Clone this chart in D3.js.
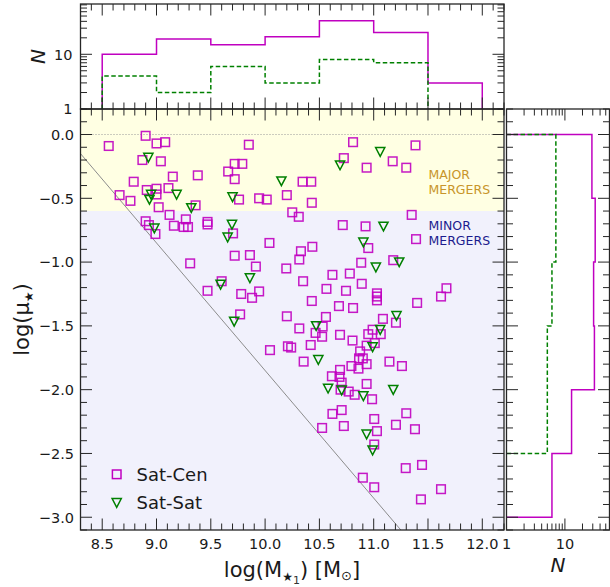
<!DOCTYPE html>
<html><head><meta charset="utf-8">
<script src="https://cdn.jsdelivr.net/npm/d3@7"></script>
<style>body{margin:0;background:#fff;} svg{display:block;font-family:"DejaVu Sans",sans-serif;}</style>
</head><body><svg id="c" width="610" height="587"></svg>
<script>
// ---------------- data ----------------
const satCen = [
[8.90,-0.01],[9.00,-0.07],[9.08,-0.06],[8.56,-0.09],[8.87,-0.20],[9.04,-0.21],[9.38,-0.32],[9.66,-0.29],[9.15,-0.33],[8.79,-0.37],
[8.91,-0.435],[9.00,-0.425],[9.00,-0.47],[9.11,-0.42],[8.66,-0.475],[8.76,-0.52],[9.02,-0.57],[9.36,-0.555],[9.12,-0.63],[8.90,-0.68],
[8.93,-0.71],[8.99,-0.78],[9.27,-0.665],[9.16,-0.715],[9.25,-0.725],[9.29,-0.725],[9.47,-0.685],[9.47,-0.705],[9.31,-1.01],[9.47,-1.225],[9.60,-1.15],
[9.85,-0.08],[9.72,-0.23],[9.79,-0.23],[9.72,-0.35],[9.76,-0.51],[9.945,-0.50],[10.015,-0.51],[10.20,-0.475],[10.345,-0.37],[10.425,-0.37],
[10.43,-0.535],[10.25,-0.61],[10.31,-0.645],[10.81,-0.06],[10.725,-0.185],[10.935,-0.26],[10.715,-0.71],[10.925,-0.72],[9.705,-0.775],[10.04,-0.85],
[9.72,-0.95],[9.86,-0.945],[9.915,-1.035],[10.195,-1.05],[10.33,-0.915],[10.435,-0.88],[10.315,-0.98],[10.35,-1.15],[9.78,-1.25],[9.88,-1.28],
[9.945,-1.23],[10.43,-1.305],[10.565,-1.21],[10.62,-1.10],[10.78,-1.09],[10.745,-1.225],[10.885,-1.005],[10.89,-1.17],[10.95,-0.89],[10.68,-1.345],
[10.81,-1.36],[9.77,-1.41],[10.20,-1.425],[10.56,-1.43],
[11.385,-0.085],[11.175,-0.21],[11.30,-0.26],[11.35,-0.63],[11.39,-0.82],[11.18,-0.985],[11.03,-1.245],[11.03,-1.27],[11.03,-1.30],[11.40,-1.32],
[11.62,-1.27],[11.67,-1.205],[11.085,-1.445],[11.205,-1.475],
[10.315,-1.52],[10.465,-1.555],[10.525,-1.585],[10.53,-1.505],[10.69,-1.57],[10.805,-1.615],[10.95,-1.565],[10.045,-1.69],[10.21,-1.66],[10.24,-1.67],
[10.42,-1.65],[10.875,-1.70],[10.355,-1.78],[10.795,-1.815],[10.865,-1.755],[10.90,-1.755],[10.86,-1.835],[10.935,-1.80],[10.615,-1.895],[10.69,-1.845],
[10.685,-1.90],[10.705,-1.945],[10.695,-2.00],[10.77,-2.015],[10.825,-2.04],[10.935,-1.955],[10.62,-2.19],[10.705,-2.16],[10.525,-2.30],[10.725,-2.285],[10.90,-2.69],
[10.99,-1.53],[11.065,-1.565],[11.01,-1.635],[10.935,-1.655],[11.145,-1.78],[11.26,-1.815],[10.985,-2.075],[11.005,-2.23],[11.03,-2.325],[11.30,-2.185],
[11.205,-2.275],[11.38,-2.31],[11.005,-2.43],[11.005,-2.765],[11.295,-2.615],[11.445,-2.59],[11.435,-2.86],[11.62,-2.78]
];
const satSat = [
[8.925,-0.18],[8.95,-0.47],[8.935,-0.51],[9.185,-0.47],[9.32,-0.575],[8.98,-0.735],[9.59,-1.175],[10.15,-0.365],[9.70,-0.49],[9.695,-0.705],
[9.655,-0.805],[10.69,-0.24],[10.905,-0.845],[9.86,-1.125],[9.715,-1.465],[10.47,-1.50],[11.06,-0.135],[11.09,-0.72],[11.02,-1.04],[11.235,-1.00],
[11.21,-1.42],[10.49,-1.765],[10.58,-1.99],[10.705,-2.005],[10.905,-2.05],[10.935,-2.35],[11.06,-1.53],[10.99,-1.665],[11.18,-2.0],[10.99,-2.475]
];
const massBinEdges = [8.5, 9.0, 9.5, 10.0, 10.5, 11.0, 11.5, 12.0];
const satCenMassCounts = [10, 19, 15, 21, 41, 25, 3];
const satSatMassCounts = [4, 2, 6, 3, 8, 7];
const muBinEdges = [0.0, -0.5, -1.0, -1.5, -2.0, -2.5, -3.0];
const satCenMuCounts = [29, 33, 31, 32, 13, 6];
const satSatMuCounts = [7, 7, 6, 5, 5];
const majorThreshold = -0.6;
const limitIntercept = 8.15;      // log(mu) = 8.15 - log(M)
const xTickValues = [8.5, 9.0, 9.5, 10.0, 10.5, 11.0, 11.5, 12.0];
const yTickValues = [-3.0, -2.5, -2.0, -1.5, -1.0, -0.5, 0.0];
const nTickValues = [1, 10];
const seriesNames = ["Sat-Cen", "Sat-Sat"];
const regionLabels = [["MAJOR", "MERGERS"], ["MINOR", "MERGERS"]];

// ---------------- layout ----------------
const L = 80.5, R = 504, T = 109, B = 530, TT = 4, RL = 506.5, RR = 609.5;
const MAG = "#c000c0", GRN = "#008000", AX = "#262626";
const svg = d3.select("#c");

const x = d3.scaleLinear([8.3, 12.2], [L, R]);
const y = d3.scaleLinear([-3.1, 0.2], [B, T]);
const yN = d3.scaleLog([1, 83], [T, TT]);
const xN = d3.scaleLog([1, 58], [RL, RR]);

const defs = svg.append("defs");
defs.append("clipPath").attr("id","cm").append("rect").attr("x",L).attr("y",T).attr("width",R-L).attr("height",B-T);
defs.append("clipPath").attr("id","ct").append("rect").attr("x",L).attr("y",TT).attr("width",R-L).attr("height",T-TT);
defs.append("clipPath").attr("id","cr").append("rect").attr("x",RL).attr("y",T).attr("width",RR-RL).attr("height",B-T);

// ---------------- main panel backgrounds ----------------
const gm = svg.append("g").attr("clip-path","url(#cm)");
gm.append("rect").attr("x",L).attr("width",R-L).attr("y",y(0.2)).attr("height",y(majorThreshold)-y(0.2)).attr("fill","#ffffe3");
gm.append("rect").attr("x",L).attr("width",R-L).attr("y",y(majorThreshold)).attr("height",y(-3.1)-y(majorThreshold)).attr("fill","#f1f1fc");
gm.append("line").attr("x1",L).attr("x2",R).attr("y1",y(0)).attr("y2",y(0))
  .attr("stroke","#999").attr("stroke-width",1).attr("stroke-dasharray","1,2");
gm.append("line").attr("x1",x(8.3)).attr("y1",y(limitIntercept-8.3)).attr("x2",x(12.2)).attr("y2",y(limitIntercept-12.2))
  .attr("stroke","#8c8c8c").attr("stroke-width",1);

// region labels
const lab = svg.append("g").attr("font-size","12.5px");
[[regionLabels[0], -0.35, "#c8952a"], [regionLabels[1], -0.75, "#1c1c8e"]].forEach(([lines, yv, col]) => {
  lines.forEach((t, i) => lab.append("text").attr("x", 428.5).attr("y", y(yv) + (i ? 15 : 0)).attr("fill", col).text(t));
});

// markers
const sq = 8.6;
gm.append("g").selectAll("rect").data(satCen).join("rect")
  .attr("x", d => x(d[0]) - sq/2).attr("y", d => y(d[1]) - sq/2).attr("width", sq).attr("height", sq)
  .attr("fill","none").attr("stroke",MAG).attr("stroke-width",1.5).attr("stroke-opacity",0.9);
const tri = (cx, cy) => `M${cx-4.6},${cy-4.2}L${cx+4.6},${cy-4.2}L${cx},${cy+4.6}Z`;
gm.append("g").selectAll("path").data(satSat).join("path")
  .attr("d", d => tri(x(d[0]), y(d[1])))
  .attr("fill","none").attr("stroke",GRN).attr("stroke-width",1.5).attr("stroke-linejoin","miter");

// ---------------- top histogram ----------------
function stepPts(edges, counts) {
  const pts = [[edges[0], 1]];
  counts.forEach((c, i) => { pts.push([edges[i], c]); pts.push([edges[i+1], c]); });
  pts.push([edges[counts.length], 1]);
  return pts;
}
const gt = svg.append("g").attr("clip-path","url(#ct)");
const topLine = d3.line().x(d => x(d[0])).y(d => yN(d[1]));
gt.append("path").attr("d", topLine(stepPts(massBinEdges, satCenMassCounts))).attr("fill","none").attr("stroke",MAG).attr("stroke-width",1.5);
gt.append("path").attr("d", topLine(stepPts(massBinEdges, satSatMassCounts))).attr("fill","none").attr("stroke",GRN).attr("stroke-width",1.5).attr("stroke-dasharray","4.5,2.5");

// ---------------- right histogram ----------------
function stepPtsR(edges, counts) {
  const pts = [[1, edges[0]]];
  counts.forEach((c, i) => { pts.push([c, edges[i]]); pts.push([c, edges[i+1]]); });
  pts.push([1, edges[counts.length]]);
  return pts;
}
const gr = svg.append("g").attr("clip-path","url(#cr)");
const rLine = d3.line().x(d => xN(d[0])).y(d => y(d[1]));
gr.append("path").attr("d", rLine(stepPtsR(muBinEdges, satCenMuCounts))).attr("fill","none").attr("stroke",MAG).attr("stroke-width",1.5);
gr.append("path").attr("d", rLine(stepPtsR(muBinEdges, satSatMuCounts))).attr("fill","none").attr("stroke",GRN).attr("stroke-width",1.5).attr("stroke-dasharray","4.5,2.5");

// ---------------- ticks & frames ----------------
const ax = svg.append("g").attr("stroke",AX).attr("stroke-width",1);
function hTicks(scale, vals, y0, len) { vals.forEach(v => ax.append("line").attr("x1",scale(v)).attr("x2",scale(v)).attr("y1",y0).attr("y2",y0+len)); }
function vTicks(scale, vals, x0, len) { vals.forEach(v => ax.append("line").attr("y1",scale(v)).attr("y2",scale(v)).attr("x1",x0).attr("x2",x0+len)); }
const xMinor = d3.range(83, 123).map(v => v/10).filter(v => Math.round(v*10) % 5 !== 0);
const yMinor = d3.range(-31, 3).map(v => v/10).filter(v => Math.round(v*10) % 5 !== 0);
const logMinorTop = [2,3,4,5,6,7,8,9,20,30,40,50,60,70,80];
const logMinorR = [2,3,4,5,6,7,8,9,20,30,40,50];
const MJ = 11.5, MN = 6.5;
// main
hTicks(x, xTickValues, B, -MJ); hTicks(x, xMinor, B, -MN);
hTicks(x, xTickValues, T, MJ);  hTicks(x, xMinor, T, MN);
vTicks(y, yTickValues, L, MJ);  vTicks(y, yMinor, L, MN);
vTicks(y, yTickValues, R, -MJ); vTicks(y, yMinor, R, -MN);
// top hist
hTicks(x, xTickValues, T, -MJ); hTicks(x, xMinor, T, -MN);
hTicks(x, xTickValues, TT, MJ); hTicks(x, xMinor, TT, MN);
vTicks(yN, nTickValues, L, MJ); vTicks(yN, logMinorTop, L, MN);
vTicks(yN, nTickValues, R, -MJ); vTicks(yN, logMinorTop, R, -MN);
// right hist
vTicks(y, yTickValues, RL, MJ); vTicks(y, yMinor, RL, MN);
vTicks(y, yTickValues, RR, -MJ); vTicks(y, yMinor, RR, -MN);
hTicks(xN, nTickValues, B, -MJ); hTicks(xN, logMinorR, B, -MN);
hTicks(xN, nTickValues, T, MJ);  hTicks(xN, logMinorR, T, MN);

const frames = svg.append("g").attr("fill","none").attr("stroke",AX).attr("stroke-width",1.3);
frames.append("rect").attr("x",L).attr("y",T).attr("width",R-L).attr("height",B-T);
frames.append("rect").attr("x",L).attr("y",TT).attr("width",R-L).attr("height",T-TT);
frames.append("rect").attr("x",RL).attr("y",T).attr("width",RR-RL).attr("height",B-T);

// tick labels
const tl = svg.append("g").attr("font-size","14.5px").attr("fill","#1a1a1a");
const f1 = d3.format(".1f");
xTickValues.forEach(v => tl.append("text").attr("x", x(v)).attr("y", 548.5).attr("text-anchor","middle").text(f1(v)));
yTickValues.forEach(v => tl.append("text").attr("x", 74).attr("y", y(v) + 5.3).attr("text-anchor","end").text(f1(v)));
nTickValues.forEach(v => tl.append("text").attr("x", 72.5).attr("y", yN(v) + 5.3).attr("text-anchor","end").text(v));
nTickValues.forEach(v => tl.append("text").attr("x", xN(v)).attr("y", 548.5).attr("text-anchor","middle").text(v));

// axis labels
const xl = svg.append("text").attr("x", 292).attr("y", 576.5).attr("text-anchor","middle").attr("font-size","21px").attr("fill","#1a1a1a");
xl.append("tspan").text("log(M");
xl.append("tspan").attr("font-size","12px").attr("dy", 4).text("★");
xl.append("tspan").attr("font-size","11px").attr("dy", 3).attr("fill","#333").text("1");
xl.append("tspan").attr("dy", -7).text(") [M");
xl.append("tspan").attr("font-size","13px").attr("dy", 3).text("⊙");
xl.append("tspan").attr("dy", -3).text("]");

const yl = svg.append("text").attr("transform","translate(29,319.5) rotate(-90)").attr("text-anchor","middle").attr("font-size","21px").attr("fill","#1a1a1a");
yl.append("tspan").text("log(μ");
yl.append("tspan").attr("font-size","12px").attr("dy", 4).text("★");
yl.append("tspan").attr("dy", -4).text(")");

svg.append("text").attr("transform","translate(45,56.5) rotate(-90)").attr("text-anchor","middle")
  .attr("font-size","20px").attr("font-style","italic").attr("fill","#1a1a1a").text("N");
svg.append("text").attr("x", 558).attr("y", 572).attr("text-anchor","middle")
  .attr("font-size","20px").attr("font-style","italic").attr("fill","#1a1a1a").text("N");

// legend
const lg = svg.append("g");
lg.append("rect").attr("x", 116.7 - 4.3).attr("y", 474.3 - 4.3).attr("width", 8.6).attr("height", 8.6)
  .attr("fill","none").attr("stroke",MAG).attr("stroke-width",1.5);
lg.append("path").attr("d", tri(116.7, 502.7)).attr("fill","none").attr("stroke",GRN).attr("stroke-width",1.5);
lg.append("text").attr("x",136.5).attr("y",480.8).attr("font-size","18px").attr("fill","#1a1a1a").text(seriesNames[0]);
lg.append("text").attr("x",136.5).attr("y",509.2).attr("font-size","18px").attr("fill","#1a1a1a").text(seriesNames[1]);
</script></body></html>
